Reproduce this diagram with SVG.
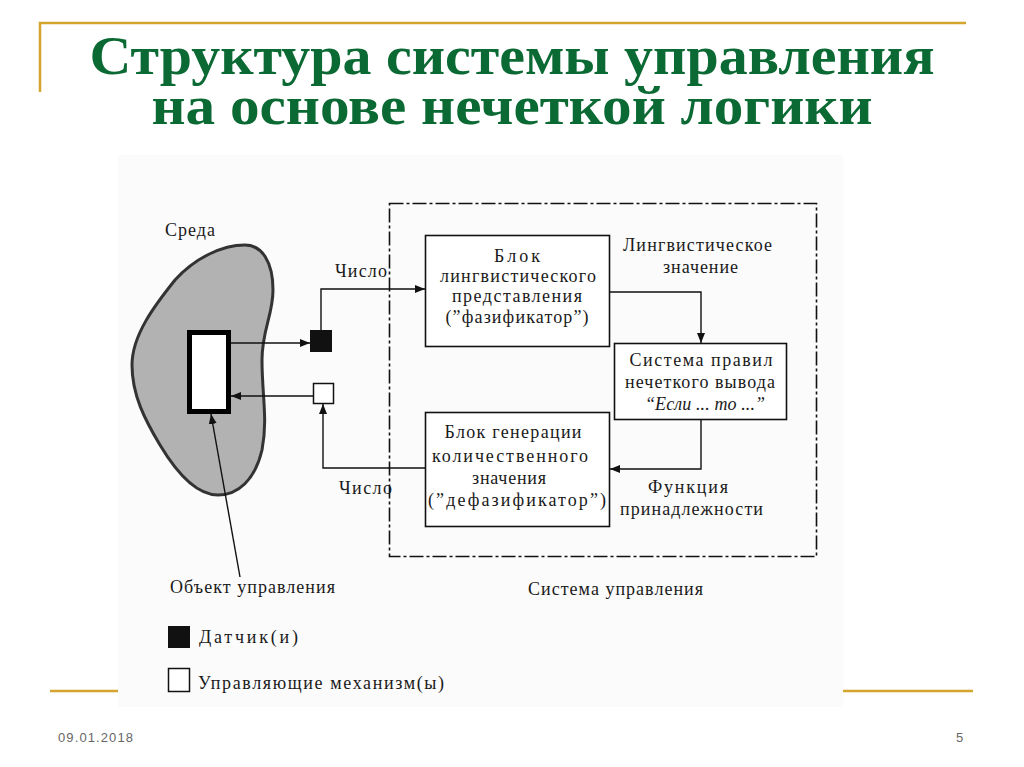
<svg xmlns="http://www.w3.org/2000/svg" width="1024" height="767" viewBox="0 0 1024 767">
<style>
.gold{stroke:#d4a52c;stroke-width:2.5;fill:none}
.title{font-family:"Liberation Serif",serif;font-weight:bold;font-size:42px;fill:#0b6a34;text-anchor:middle}
.t{font-family:"Liberation Serif",serif;font-size:18px;fill:#1a1a1a}
.c{text-anchor:middle}
.box{fill:#fff;stroke:#111;stroke-width:1.6}
.ln{fill:none;stroke:#111;stroke-width:1.4}
.foot{font-family:"Liberation Sans",sans-serif;font-size:13px;fill:#666}
</style>
<defs>
<marker id="ah" viewBox="0 0 10 8" refX="10" refY="4" markerWidth="10" markerHeight="8" markerUnits="userSpaceOnUse" orient="auto">
<path d="M0,0 L10,4 L0,8 Z" fill="#111"/>
</marker>
</defs>
<rect width="1024" height="767" fill="#fff"/>
<g id="frame">
<path class="gold" d="M40,92 V23 H966"/>
<line class="gold" x1="50" y1="691" x2="118" y2="691"/>
<line class="gold" x1="843" y1="691" x2="973" y2="691"/>
<rect x="118" y="155" width="725" height="552" fill="#fbfbfb"/>
</g>
<g id="title">
<text class="title" transform="translate(512,74) scale(1,1.3)" x="0" y="0" textLength="845" lengthAdjust="spacingAndGlyphs">Структура системы управления</text>
<text class="title" transform="translate(512,124) scale(1,1.3)" x="0" y="0" textLength="721" lengthAdjust="spacingAndGlyphs">на основе нечеткой логики</text>
</g>
<g id="environment">
<path d="M245,245 C262,245 273,262 273,290 C273,315 262,330 262,360 C262,395 268,420 262,450 C255,480 238,495 218,495 C195,495 175,470 160,445 C145,420 132,395 132,365 C132,335 155,305 175,280 C195,258 222,245 245,245 Z" fill="#b2b2b2" stroke="#333" stroke-width="3"/>
<text class="t" x="165" y="236" textLength="50">Среда</text>
</g>
<g id="object">
<rect x="189.5" y="332.5" width="39" height="79" fill="#fff" stroke="#000" stroke-width="5"/>
</g>
<g id="sensor">
<rect x="310" y="330" width="22" height="22" fill="#111"/>
</g>
<g id="actuator">
<rect x="313.5" y="383.5" width="20" height="20" fill="#fff" stroke="#111" stroke-width="1.5"/>
</g>
<g id="control-system">
<rect x="389.5" y="203.5" width="427" height="353" fill="none" stroke="#111" stroke-width="1.6" stroke-dasharray="14 3 3 3"/>
<text class="t" x="528" y="595" textLength="175">Система управления</text>
</g>
<g id="fuzzifier">
<rect class="box" x="425.5" y="235.5" width="184" height="111"/>
<text class="t c" x="517" y="262" textLength="46">Блок</text>
<text class="t c" x="518" y="282" textLength="156">лингвистического</text>
<text class="t c" x="517" y="302" textLength="130">представления</text>
<text class="t c" x="517" y="323" textLength="143">(”фазификатор”)</text>
</g>
<g id="rules">
<rect class="box" x="614.5" y="343.5" width="172" height="76"/>
<text class="t c" x="701" y="366" textLength="143">Система правил</text>
<text class="t c" x="700" y="388" textLength="150">нечеткого вывода</text>
<text class="t c" x="705" y="410" textLength="120" font-style="italic">“Если ... то ...”</text>
</g>
<g id="defuzzifier">
<rect class="box" x="425.5" y="412.5" width="184" height="114"/>
<text class="t c" x="513" y="438" textLength="137">Блок генерации</text>
<text class="t c" x="510" y="462" textLength="156">количественного</text>
<text class="t c" x="509" y="484" textLength="74">значения</text>
<text class="t c" x="517" y="506" textLength="178">(”дефазификатор”)</text>
</g>
<g id="labels">
<text class="t" x="335" y="277" textLength="52">Число</text>
<text class="t" x="339" y="494" textLength="53">Число</text>
<text class="t" x="623" y="251" textLength="149">Лингвистическое</text>
<text class="t" x="663" y="273" textLength="75">значение</text>
<text class="t" x="648" y="493" textLength="80">Функция</text>
<text class="t" x="620" y="515" textLength="143">принадлежности</text>
<text class="t" x="170" y="593" textLength="165">Объект управления</text>
</g>
<g id="legend">
<rect x="168" y="626" width="22" height="22" fill="#111"/>
<text class="t" x="199" y="643" textLength="99">Датчик(и)</text>
<rect x="168.5" y="668.5" width="21" height="23" fill="#fff" stroke="#111" stroke-width="1.5"/>
<text class="t" x="198" y="689" textLength="246">Управляющие механизм(ы)</text>
</g>
<g id="connectors">
<path class="ln" d="M231,343 H310" marker-end="url(#ah)"/>
<path class="ln" d="M321,330 V289 H425" marker-end="url(#ah)"/>
<path class="ln" d="M313,396 H231" marker-end="url(#ah)"/>
<path class="ln" d="M425,468 H323 V404" marker-end="url(#ah)"/>
<path class="ln" d="M610,292 H701 V343" marker-end="url(#ah)"/>
<path class="ln" d="M701,420 V469 H610" marker-end="url(#ah)"/>
<path class="ln" d="M240,577 L211,414" marker-end="url(#ah)"/>
</g>
<g id="footer">
<text class="foot" x="58" y="742" textLength="75">09.01.2018</text>
<text class="foot" x="956" y="742">5</text>
</g>
</svg>
